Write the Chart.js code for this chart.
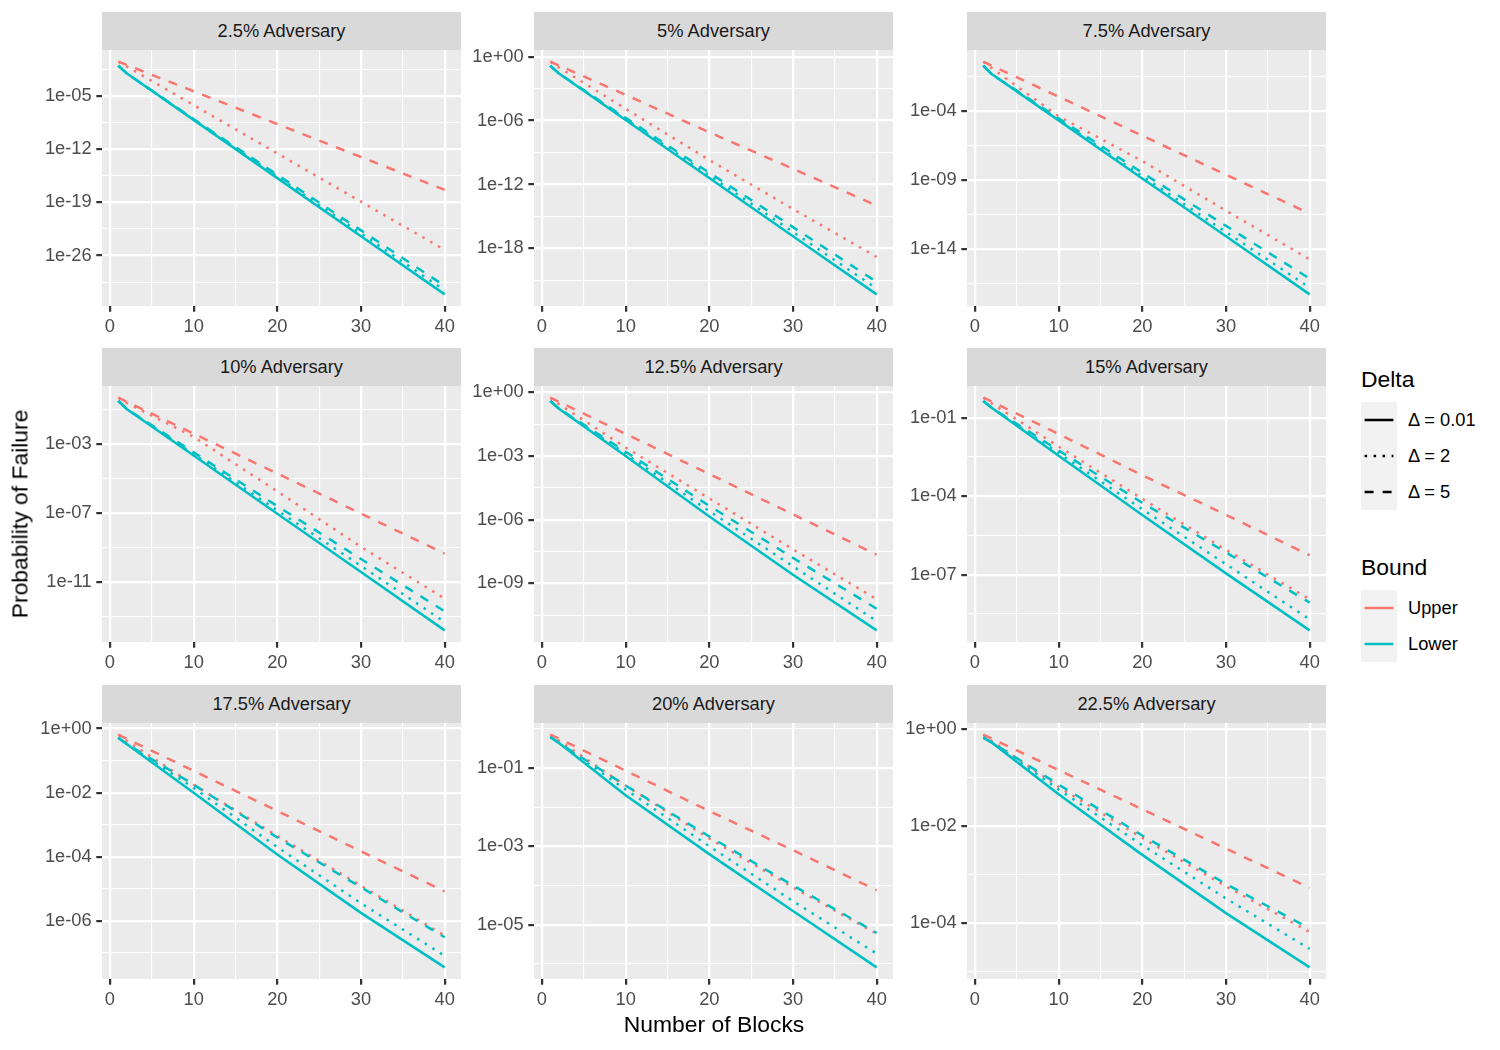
<!DOCTYPE html>
<html lang="en">
<head>
<meta charset="UTF-8">
<title>Probability of Failure</title>
<script src="https://cdn.jsdelivr.net/npm/chart.js@4.4.1/dist/chart.umd.min.js"></script>
<style>
  body { margin: 0; background: #fff; font-family: "Liberation Sans", Arial, sans-serif; }
  #page { position: relative; width: 1500px; height: 1050px; overflow: hidden; }
  .strip { position: absolute; background: #D9D9D9; color: #1A1A1A; font-size: 18.3px;
           display: flex; align-items: center; justify-content: center; }
  .panel { position: absolute; }
  .title { position: absolute; font-size: 22.9px; color: #000; white-space: nowrap; }
  .lgText { position: absolute; font-size: 18.3px; color: #000; white-space: nowrap; transform: translateY(-50%); }
</style>
</head>
<body>
<div id="page"></div>
<script>
// values, x = number of blocks
const blocks = [1, 2, 10, 20, 30, 40];
const adversaries = ['2.5%', '5%', '7.5%', '10%', '12.5%', '15%', '17.5%', '20%', '22.5%'];

// one row per adversary panel
const upperDelta5 = [
  [3.1e-1, 1.15e-1, 4.0e-5, 1.9e-9, 8.9e-14, 4.3e-18],
  [3.4e-1, 1.5e-1, 2.6e-4, 7.9e-8, 3.0e-11, 1.05e-14],
  [4.1e-1, 2.1e-1, 1.17e-3, 1.74e-6, 2.57e-9, 3.9e-12],
  [4.57e-1, 2.69e-1, 3.8e-3, 1.91e-5, 9.33e-8, 4.57e-10],
  [5.62e-1, 3.63e-1, 1.1e-2, 1.41e-4, 1.78e-6, 2.24e-8],
  [5.89e-1, 4.17e-1, 2.4e-2, 6.31e-4, 1.95e-5, 5.5e-7],
  [6.46e-1, 4.79e-1, 4.79e-2, 2.69e-3, 1.48e-4, 8.32e-6],
  [7.08e-1, 5.62e-1, 8.51e-2, 7.94e-3, 7.94e-4, 7.59e-5],
  [7.59e-1, 6.31e-1, 1.41e-1, 2.19e-2, 3.39e-3, 5.25e-4]
];
const upperDelta2 = [
  [3.1e-1, 7.2e-2, 6.0e-7, 2.7e-13, 1.2e-19, 5.5e-26],
  [3.4e-1, 1.0e-1, 1.26e-5, 2.0e-10, 5.0e-15, 1.6e-19],
  [4.1e-1, 1.41e-1, 4.47e-5, 2.51e-8, 6.31e-12, 1.86e-15],
  [4.57e-1, 2.24e-1, 2.51e-3, 1.78e-6, 1.12e-9, 1.15e-12],
  [5.62e-1, 2.82e-1, 2.51e-3, 1.0e-5, 3.98e-8, 1.78e-10],
  [5.89e-1, 3.55e-1, 7.94e-3, 7.94e-5, 8.91e-7, 1.15e-8],
  [6.46e-1, 4.17e-1, 1.78e-2, 4.47e-4, 1.26e-5, 3.47e-7],
  [7.08e-1, 5.01e-1, 3.55e-2, 1.58e-3, 8.91e-5, 5.89e-6],
  [7.59e-1, 5.62e-1, 6.31e-2, 5.62e-3, 5.62e-4, 6.46e-5]
];
const lowerDelta001 = [
  [9.1e-2, 8.9e-3, 6.8e-9, 1.5e-16, 3.4e-24, 7.8e-32],
  [1.41e-1, 2.7e-2, 1.15e-6, 4.1e-12, 1.41e-17, 4.9e-23],
  [2.09e-1, 5.13e-2, 2.24e-5, 1.38e-9, 8.71e-14, 5.37e-18],
  [2.95e-1, 1.02e-1, 2.09e-4, 9.12e-8, 3.98e-11, 1.7e-14],
  [3.89e-1, 1.74e-1, 1.0e-3, 1.41e-6, 2.51e-9, 6.03e-12],
  [4.37e-1, 2.4e-1, 3.55e-3, 1.91e-5, 1.12e-7, 7.41e-10],
  [5.13e-1, 3.31e-1, 1.0e-2, 1.17e-4, 1.78e-6, 3.55e-8],
  [6.17e-1, 4.37e-1, 2.0e-2, 6.31e-4, 2.24e-5, 8.13e-7],
  [6.61e-1, 5.25e-1, 4.47e-2, 2.51e-3, 1.58e-4, 1.2e-5]
];
const lowerDelta2 = [
  [9.1e-2, 8.9e-3, 7.6e-9, 2.5e-16, 7.9e-24, 2.6e-31],
  [1.41e-1, 2.7e-2, 1.41e-6, 7.1e-12, 3.55e-17, 1.7e-22],
  [2.09e-1, 5.13e-2, 2.51e-5, 2.0e-9, 1.78e-13, 1.66e-17],
  [2.95e-1, 1.02e-1, 2.51e-4, 1.41e-7, 8.91e-11, 5.13e-14],
  [3.89e-1, 1.74e-1, 1.26e-3, 2.51e-6, 6.31e-9, 1.66e-11],
  [4.37e-1, 2.4e-1, 4.47e-3, 3.16e-5, 2.51e-7, 1.95e-9],
  [5.13e-1, 3.31e-1, 1.41e-2, 2.0e-4, 3.55e-6, 8.13e-8],
  [6.17e-1, 4.37e-1, 2.82e-2, 1.0e-3, 3.98e-5, 1.82e-6],
  [6.61e-1, 5.25e-1, 5.62e-2, 3.98e-3, 3.16e-4, 2.88e-5]
];
const lowerDelta5 = [
  [9.1e-2, 8.9e-3, 8.9e-9, 4.0e-16, 2.0e-23, 1.0e-30],
  [1.41e-1, 2.7e-2, 1.78e-6, 1.26e-11, 1.0e-16, 7.2e-22],
  [2.09e-1, 5.13e-2, 3.16e-5, 3.55e-9, 5.01e-13, 7.41e-17],
  [2.95e-1, 1.02e-1, 3.16e-4, 2.51e-7, 2.24e-10, 2.14e-13],
  [3.89e-1, 1.74e-1, 1.58e-3, 4.47e-6, 1.58e-8, 6.31e-11],
  [4.37e-1, 2.4e-1, 5.62e-3, 5.62e-5, 7.08e-7, 8.51e-9],
  [5.13e-1, 3.31e-1, 1.78e-2, 3.98e-4, 1.12e-5, 3.09e-7],
  [6.17e-1, 4.37e-1, 3.55e-2, 1.78e-3, 1.0e-4, 6.17e-6],
  [6.61e-1, 5.25e-1, 7.08e-2, 6.31e-3, 6.31e-4, 7.59e-5]
];

// labelled y breaks per panel, and x breaks
const yTicks = [
  [1e-5, 1e-12, 1e-19, 1e-26],
  [1e0, 1e-6, 1e-12, 1e-18],
  [1e-4, 1e-9, 1e-14],
  [1e-3, 1e-7, 1e-11],
  [1e0, 1e-3, 1e-6, 1e-9],
  [1e-1, 1e-4, 1e-7],
  [1e0, 1e-2, 1e-4, 1e-6],
  [1e-1, 1e-3, 1e-5],
  [1e0, 1e-2, 1e-4]
];
const xTicks = [0, 10, 20, 30, 40];

const UPPER = '#F8766D', LOWER = '#00BFC4';
const LW = 2.22;      // grid / tick width
const DATA_LW = 2.5;  // data line width
const DOTTED = [2.5, 6.5], DASHED = [9, 9];

Chart.defaults.font.family = '"Liberation Sans", Arial, sans-serif';

const page = document.getElementById('page');
const colLeft = [102, 534, 967];
const rowTop = [50, 386, 723];
const plotW = 359, plotH = 256;
const axisW = 72, axisH = 30, padT = 18, padR = 12, padB = 6;

const panelBg = {
  id: 'panelBg',
  beforeDraw(chart) {
    const { ctx, chartArea: a } = chart;
    ctx.save();
    ctx.fillStyle = '#EBEBEB';
    ctx.fillRect(a.left, a.top, a.right - a.left, a.bottom - a.top);
    ctx.restore();
  }
};

function sci(v) {
  const e = Math.round(Math.log10(v));
  return '1e' + (e < 0 ? '-' : '+') + String(Math.abs(e)).padStart(2, '0');
}

function withMinors(major, lo, hi, logSpace) {
  const f = logSpace ? Math.log10 : (v => v);
  const inv = logSpace ? (v => Math.pow(10, v)) : (v => v);
  const m = major.map(f).sort((a, b) => a - b);
  const step = m[1] - m[0];
  const out = m.map(v => ({ v: v, minor: false }));
  for (let i = -1; i < m.length; i++) {
    const base = i < 0 ? m[0] - step : m[i];
    out.push({ v: base + step / 2, minor: true });
  }
  return out.filter(t => t.v >= f(lo) && t.v <= f(hi))
            .sort((a, b) => a.v - b.v)
            .map(t => ({ value: inv(t.v), minor: t.minor }));
}

const gridStyle = {
  color: '#FFFFFF',
  lineWidth: c => (c.tick && c.tick.minor) ? LW / 2 : LW,
  tickColor: c => (c.tick && c.tick.minor) ? 'rgba(0,0,0,0)' : '#333333',
  tickWidth: LW,
  tickLength: 5.7
};

adversaries.forEach((adv, i) => {
  const col = i % 3, row = Math.floor(i / 3);
  const left = colLeft[col], top = rowTop[row];

  const strip = document.createElement('div');
  strip.className = 'strip';
  Object.assign(strip.style, { left: left + 'px', top: (top - 38) + 'px', width: plotW + 'px', height: '38px' });
  strip.textContent = adv + ' Adversary';
  page.appendChild(strip);

  const canvas = document.createElement('canvas');
  canvas.className = 'panel';
  const cw = axisW + plotW + padR, ch = padT + plotH + axisH + padB;
  canvas.width = cw; canvas.height = ch;
  Object.assign(canvas.style, { left: (left - axisW) + 'px', top: (top - padT) + 'px', width: cw + 'px', height: ch + 'px' });
  page.appendChild(canvas);

  // first dataset is drawn on top
  const series = [
    { d: lowerDelta5[i], c: LOWER, dash: DASHED },
    { d: lowerDelta2[i], c: LOWER, dash: DOTTED },
    { d: lowerDelta001[i], c: LOWER, dash: [] },
    { d: upperDelta5[i], c: UPPER, dash: DASHED },
    { d: upperDelta2[i], c: UPPER, dash: DOTTED }
  ];

  const logs = series.flatMap(s => s.d.map(v => Math.log10(v)));
  const yLo = Math.min(...logs), yHi = Math.max(...logs), ySpan = yHi - yLo;
  const yMin = Math.pow(10, yLo - 0.05 * ySpan), yMax = Math.pow(10, yHi + 0.05 * ySpan);
  const xLo = Math.min(...blocks), xHi = Math.max(...blocks), xSpan = xHi - xLo;
  const xMin = xLo - 0.05 * xSpan, xMax = xHi + 0.05 * xSpan;

  new Chart(canvas.getContext('2d'), {
    type: 'line',
    data: {
      datasets: series.map(s => ({
        data: blocks.map((b, k) => ({ x: b, y: s.d[k] })),
        borderColor: s.c,
        borderWidth: DATA_LW,
        borderDash: s.dash,
        borderCapStyle: 'butt',
        pointRadius: 0,
        tension: 0,
        fill: false
      }))
    },
    options: {
      responsive: false,
      animation: false,
      events: [],
      layout: { padding: { top: padT, right: padR, bottom: padB, left: 0 } },
      plugins: { legend: { display: false }, tooltip: { enabled: false } },
      scales: {
        x: {
          type: 'linear', min: xMin, max: xMax,
          afterBuildTicks: s => { s.ticks = withMinors(xTicks, xMin, xMax, false); },
          afterFit: s => { s.height = axisH; },
          border: { display: false },
          grid: gridStyle,
          ticks: {
            autoSkip: false, maxRotation: 0, padding: 4.6, color: '#4D4D4D', font: { size: 18.3 },
            callback: (v, k, t) => t[k].minor ? '' : String(v)
          }
        },
        y: {
          type: 'logarithmic', min: yMin, max: yMax,
          afterBuildTicks: s => { s.ticks = withMinors(yTicks[i], yMin, yMax, true); },
          afterFit: s => { s.width = axisW; },
          border: { display: false },
          grid: gridStyle,
          ticks: {
            autoSkip: false, padding: 4.6, color: '#4D4D4D', font: { size: 18.3 },
            callback: (v, k, t) => t[k].minor ? '' : sci(v)
          }
        }
      }
    },
    plugins: [panelBg]
  });
});

// axis titles
const xTitle = document.createElement('div');
xTitle.className = 'title';
xTitle.textContent = 'Number of Blocks';
Object.assign(xTitle.style, { left: '714px', top: '1024px', transform: 'translate(-50%, -50%)' });
page.appendChild(xTitle);

const yTitle = document.createElement('div');
yTitle.className = 'title';
yTitle.textContent = 'Probability of Failure';
Object.assign(yTitle.style, { left: '20px', top: '514px', transform: 'translate(-50%, -50%) rotate(-90deg)' });
page.appendChild(yTitle);

// legends
function legend(title, titleY, items, keyTop) {
  const t = document.createElement('div');
  t.className = 'title';
  t.textContent = title;
  Object.assign(t.style, { left: '1361px', top: titleY + 'px', transform: 'translateY(-50%)' });
  page.appendChild(t);
  const svgNS = 'http://www.w3.org/2000/svg';
  const svg = document.createElementNS(svgNS, 'svg');
  svg.setAttribute('width', 36); svg.setAttribute('height', 36 * items.length);
  Object.assign(svg.style, { position: 'absolute', left: '1361px', top: keyTop + 'px' });
  const bg = document.createElementNS(svgNS, 'rect');
  bg.setAttribute('width', 36); bg.setAttribute('height', 36 * items.length); bg.setAttribute('fill', '#F2F2F2');
  svg.appendChild(bg);
  items.forEach((it, k) => {
    const y = 36 * k + 18;
    const ln = document.createElementNS(svgNS, 'line');
    ln.setAttribute('x1', 3.6); ln.setAttribute('x2', 32.4);
    ln.setAttribute('y1', y); ln.setAttribute('y2', y);
    ln.setAttribute('stroke', it.color); ln.setAttribute('stroke-width', DATA_LW);
    if (it.dash.length) ln.setAttribute('stroke-dasharray', it.dash.join(' '));
    svg.appendChild(ln);
    const lab = document.createElement('div');
    lab.className = 'lgText';
    lab.textContent = it.label;
    Object.assign(lab.style, { left: '1408px', top: (keyTop + y) + 'px' });
    page.appendChild(lab);
  });
  page.appendChild(svg);
}

legend('Delta', 379, [
  { label: '\u0394 = 0.01', color: '#000', dash: [] },
  { label: '\u0394 = 2', color: '#000', dash: DOTTED },
  { label: '\u0394 = 5', color: '#000', dash: DASHED }
], 402);
legend('Bound', 567, [
  { label: 'Upper', color: UPPER, dash: [] },
  { label: 'Lower', color: LOWER, dash: [] }
], 590);
</script>
</body>
</html>
